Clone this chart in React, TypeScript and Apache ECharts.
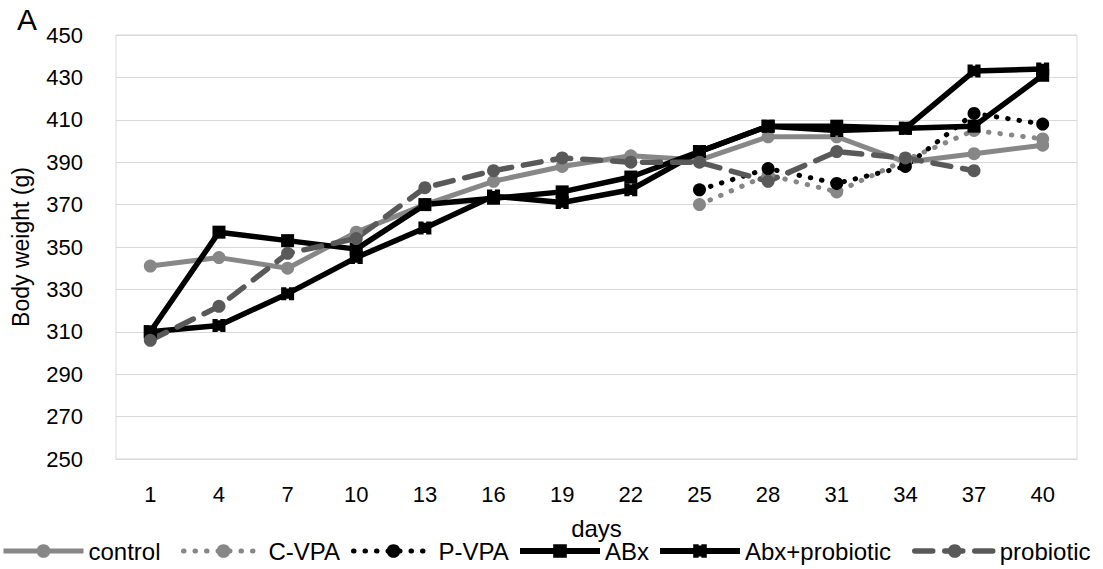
import React, { useEffect, useRef } from "react";
import * as echarts from "echarts";

const days = ["1", "4", "7", "10", "13", "16", "19", "22", "25", "28", "31", "34", "37", "40"];
const control = [341, 345, 340, 357, 370, 381, 388, 393, 391, 402, 402, 390, 394, 398];
const cVpa = [null, null, null, null, null, null, null, null, 370, 384, 376, 391, 405, 401];
const pVpa = [null, null, null, null, null, null, null, null, 377, 387, 380, 388, 413, 408];
const abx = [310, 357, 353, 349, 370, 373, 376, 383, 395, 407, 407, 406, 407, 431];
const abxProbiotic = [310, 313, 328, 345, 359, 374, 371, 377, 395, 407, 405, 406, 433, 434];
const probiotic = [306, 322, 347, 354, 378, 386, 392, 390, 390, 381, 395, 392, 386, null];
const seriesNames = ["control", "C-VPA", "P-VPA", "ABx", "Abx+probiotic", "probiotic"];
const yTicks = { min: 250, max: 450, interval: 20 };

const FONT = "Arial, 'Liberation Sans', sans-serif";
const LIGHT = "#878787";
const DARK = "#595959";
const NOTCHED = "path://M0,0 H4 V1 H6 V0 H10 V10 H6 V9 H4 V10 H0 Z";
const legendLefts = [1, 181, 351, 517, 657, 912];
const legendWidths = [5, 5, 5, 6, 6, 5.5];

export default function App() {
  const ref = useRef<HTMLDivElement>(null);
  useEffect(() => {
    document.body.style.margin = "0";
    const chart = echarts.init(ref.current!, undefined, { renderer: "svg" });
    const mk = (name: string, data: any[], color: string, type: any, width: number, symbol: string, size: number) => ({
      name,
      type: "line",
      data,
      symbol,
      symbolSize: size,
      showSymbol: true,
      connectNulls: false,
      itemStyle: { color, borderWidth: 0 },
      lineStyle: { color, width, type, cap: type === "solid" ? "butt" : "round" },
      emphasis: { disabled: true },
    });
    chart.setOption({
      animation: false,
      textStyle: { fontFamily: FONT },
      grid: { left: 116, right: 26, top: 35, bottom: 110, show: true, borderColor: "#d9d9d9", borderWidth: 1 },
      graphic: [
        { type: "text", left: 17, top: 4, style: { text: "A", fontSize: 30, fontFamily: FONT, fill: "#000" } },
      ],
      legend: seriesNames.map((n, i) => ({
        left: legendLefts[i],
        top: 539,
        padding: 0,
        itemWidth: 80,
        itemHeight: 17,
        lineStyle: { width: legendWidths[i] },
        textStyle: { fontSize: 24, color: "#000", fontFamily: FONT },
        data: [n],
      })),
      xAxis: {
        type: "category",
        data: days,
        boundaryGap: true,
        name: "days",
        nameLocation: "middle",
        nameGap: 57,
        nameTextStyle: { fontSize: 24, color: "#000", fontFamily: FONT },
        axisLine: { show: true, lineStyle: { color: "#d9d9d9" } },
        axisTick: { show: false },
        axisLabel: { fontSize: 22, color: "#000", margin: 24, fontFamily: FONT },
      },
      yAxis: {
        type: "value",
        min: yTicks.min,
        max: yTicks.max,
        interval: yTicks.interval,
        name: "Body weight (g)",
        nameLocation: "middle",
        nameGap: 84,
        nameTextStyle: { fontSize: 23, color: "#000", fontFamily: FONT },
        axisLine: { show: false },
        axisTick: { show: false },
        axisLabel: { fontSize: 22, color: "#000", margin: 33, fontFamily: FONT },
        splitLine: { lineStyle: { color: "#d9d9d9", width: 1 } },
      },
      series: [
        mk("control", control, LIGHT, "solid", 5, "circle", 13),
        mk("C-VPA", cVpa, LIGHT, [0.5, 11], 5, "circle", 13),
        mk("P-VPA", pVpa, "#000", [0.5, 11], 5, "circle", 13),
        mk("ABx", abx, "#000", "solid", 5.5, "rect", 13),
        mk("Abx+probiotic", abxProbiotic, "#000", "solid", 5.5, NOTCHED, 13),
        mk("probiotic", probiotic, DARK, [18, 12], 5.5, "circle", 13),
      ],
    });
    return () => chart.dispose();
  }, []);
  return <div ref={ref} style={{ width: 1103, height: 569 }} />;
}
